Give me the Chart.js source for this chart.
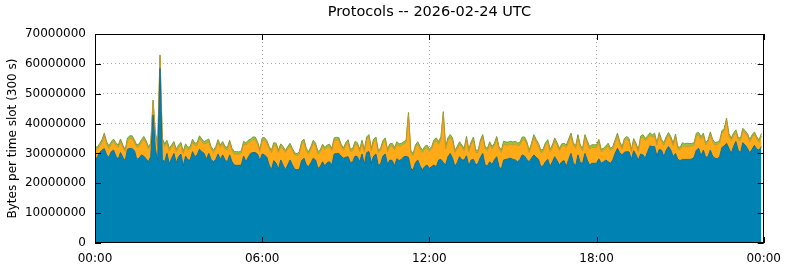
<!DOCTYPE html>
<html>
<head>
<meta charset="utf-8">
<script src="https://cdn.jsdelivr.net/npm/chart.js@4"></script>
<style>
  html, body { margin: 0; padding: 0; background: #fff; }
  canvas { display: block; }
</style>
</head>
<body>
<canvas id="chart" width="790" height="267"></canvas>
<script>
const TITLE = 'Protocols -- 2026-02-24 UTC';
const Y_TITLE = 'Bytes per time slot (300 s)';
const SLOT_MIN = 5; // one value every 300 s
const TIME_TICKS = ['00:00', '06:00', '12:00', '18:00', '00:00'];

// values in millions of bytes per slot, 288 slots (00:00 .. 23:55)
const tcp = [
  27.2, 28.9, 30.3, 31.1, 31.6, 29.5, 28.7, 30.6, 31.1, 29.1, 28.0, 30.3, 28.7, 27.5, 31.4, 31.7, 31.6, 30.9, 28.0, 28.4, 29.5, 29.1, 28.2, 27.2,
  28.9, 42.9, 31.5, 27.6, 58.5, 28.0, 27.2, 30.0, 26.5, 28.4, 30.0, 26.9, 28.9, 29.8, 25.8, 29.1, 27.8, 27.8, 30.6, 28.9, 29.5, 31.4, 30.6, 30.0,
  28.0, 30.0, 28.0, 27.2, 28.0, 29.8, 28.0, 29.5, 27.8, 27.2, 29.5, 27.2, 26.1, 26.0, 26.0, 26.1, 29.1, 27.2, 28.7, 30.0, 30.3, 30.3, 29.8, 27.6,
  29.8, 29.5, 28.7, 26.1, 24.5, 27.6, 26.7, 24.7, 27.8, 26.1, 24.5, 26.1, 27.8, 26.1, 24.7, 24.5, 24.7, 27.6, 28.4, 26.1, 25.6, 26.9, 28.4, 27.8,
  25.0, 25.6, 27.2, 25.8, 26.9, 27.2, 26.1, 29.8, 30.0, 30.0, 29.1, 28.4, 28.7, 28.9, 26.9, 27.2, 29.1, 28.9, 27.2, 29.8, 26.3, 30.3, 30.6, 26.7,
  29.1, 29.8, 26.0, 26.5, 29.1, 29.8, 26.3, 27.8, 27.6, 25.8, 28.2, 27.6, 28.0, 28.9, 29.0, 28.7, 25.0, 24.5, 26.9, 27.8, 25.8, 24.5, 25.6, 26.1,
  25.0, 25.6, 26.1, 25.5, 27.8, 28.0, 27.0, 26.1, 28.9, 30.0, 28.4, 25.6, 26.9, 28.9, 27.8, 27.8, 29.2, 25.8, 27.8, 28.0, 26.1, 26.7, 28.7, 30.0,
  26.1, 25.8, 27.2, 26.3, 27.8, 28.9, 25.6, 24.7, 27.8, 28.0, 28.2, 28.4, 28.0, 27.8, 27.2, 28.0, 29.5, 29.1, 28.0, 27.2, 28.4, 29.5, 28.7, 28.0,
  25.6, 25.8, 27.2, 28.0, 25.6, 27.2, 28.9, 27.6, 26.1, 27.2, 27.6, 25.6, 28.0, 30.0, 26.9, 25.8, 29.5, 26.9, 26.7, 30.0, 27.8, 26.1, 26.7, 26.7,
  26.7, 28.2, 26.7, 27.2, 27.8, 27.2, 26.7, 27.8, 30.0, 31.7, 30.2, 29.5, 30.4, 30.6, 30.5, 28.0, 30.9, 29.5, 27.8, 29.8, 29.5, 28.4, 30.6, 32.5,
  32.3, 32.3, 29.1, 31.3, 31.1, 28.9, 31.1, 32.3, 31.1, 28.9, 30.0, 28.0, 27.6, 28.0, 28.0, 28.0, 28.0, 28.1, 28.7, 31.1, 31.7, 29.2, 31.1, 28.7,
  28.9, 31.1, 29.1, 28.4, 28.2, 28.9, 32.0, 32.5, 33.4, 31.7, 30.0, 32.3, 34.0, 31.1, 30.2, 33.6, 32.8, 31.7, 30.2, 31.4, 32.7, 31.4, 31.1, 32.3
];
const udp = [
  4.3, 2.5, 2.2, 2.6, 4.3, 3.6, 3.0, 2.5, 2.8, 3.7, 4.0, 3.6, 3.3, 3.1, 2.9, 3.3, 3.4, 2.8, 4.0, 4.0, 4.2, 5.7, 5.3, 4.3,
  3.7, 4.2, 4.7, 4.8, 3.7, 6.2, 5.2, 3.5, 4.4, 3.6, 3.1, 3.7, 3.1, 3.0, 4.2, 3.3, 3.4, 3.7, 3.3, 3.7, 3.3, 3.6, 3.3, 3.1,
  5.5, 3.9, 3.5, 3.1, 3.5, 3.9, 4.0, 3.6, 3.7, 4.0, 4.0, 3.7, 3.7, 3.8, 3.7, 4.0, 4.0, 5.6, 4.8, 3.9, 4.3, 4.3, 3.3, 3.0,
  4.5, 4.9, 4.8, 5.4, 5.8, 5.2, 5.9, 5.6, 4.6, 5.4, 5.8, 5.4, 4.8, 4.8, 4.8, 4.7, 5.1, 5.5, 5.5, 4.8, 4.2, 4.6, 5.1, 4.8,
  4.8, 4.7, 5.1, 5.4, 5.1, 5.1, 4.8, 4.5, 4.5, 4.4, 3.2, 2.6, 4.1, 4.8, 3.7, 3.7, 4.0, 3.9, 3.4, 3.7, 4.3, 4.3, 4.8, 4.2,
  4.8, 4.8, 4.3, 4.4, 4.4, 4.5, 4.3, 4.6, 5.0, 5.4, 4.9, 4.8, 4.6, 4.2, 4.7, 14.2, 5.3, 4.7, 5.1, 5.3, 5.7, 5.8, 5.9, 5.9,
  5.6, 5.9, 7.6, 8.8, 5.3, 6.8, 16.2, 5.4, 5.4, 5.4, 5.9, 4.7, 4.6, 4.2, 4.2, 3.1, 5.6, 4.8, 5.3, 6.6, 4.2, 3.6, 5.0, 5.4,
  5.4, 5.1, 5.9, 5.2, 4.8, 5.9, 5.9, 5.6, 5.3, 4.8, 4.6, 4.7, 4.8, 5.3, 5.4, 4.8, 5.1, 5.5, 5.1, 3.1, 4.2, 5.9, 5.2, 4.6,
  4.7, 4.8, 5.6, 5.7, 5.0, 4.8, 5.4, 5.2, 4.8, 5.2, 5.0, 6.4, 5.9, 5.9, 5.9, 5.9, 5.9, 5.1, 4.2, 5.4, 5.7, 5.4, 5.3, 5.3,
  5.3, 5.7, 3.9, 3.7, 3.9, 5.4, 4.2, 3.7, 3.7, 4.2, 2.9, 2.0, 3.8, 4.2, 3.7, 2.6, 3.3, 3.1, 2.8, 5.2, 5.9, 5.9, 4.4, 3.6,
  3.1, 3.6, 3.7, 4.8, 2.8, 3.9, 3.7, 3.8, 3.7, 3.7, 5.7, 3.5, 3.6, 4.6, 4.2, 4.4, 4.3, 4.3, 4.1, 4.8, 4.4, 5.6, 4.8, 4.1,
  4.8, 5.2, 4.8, 4.4, 4.8, 4.6, 4.8, 5.1, 7.6, 4.2, 4.3, 3.6, 3.0, 3.5, 4.1, 4.0, 4.0, 4.2, 3.7, 4.0, 3.7, 3.4, 2.6, 3.6
];
const other = [
  0.8, 0.7, 0.8, 0.9, 0.9, 0.8, 0.8, 0.8, 0.9, 0.8, 0.8, 0.9, 0.8, 0.7, 0.9, 0.9, 0.9, 0.8, 0.8, 0.8, 0.9, 0.9, 0.8, 0.8,
  0.8, 0.8, 0.7, 0.8, 0.8, 0.8, 0.8, 0.9, 0.8, 0.8, 0.9, 0.8, 0.8, 0.9, 0.7, 0.8, 0.8, 0.8, 0.9, 0.8, 0.8, 0.9, 0.9, 0.8,
  0.9, 0.9, 0.8, 0.8, 0.8, 0.9, 0.8, 0.9, 0.8, 0.8, 0.9, 0.8, 0.8, 0.8, 0.8, 0.8, 0.9, 0.8, 0.9, 0.9, 0.9, 0.9, 0.8, 0.8,
  0.9, 0.9, 0.8, 0.8, 0.8, 0.8, 0.8, 0.8, 0.8, 0.8, 0.7, 0.8, 0.8, 0.8, 0.7, 0.7, 0.8, 0.9, 0.9, 0.8, 0.8, 0.8, 0.9, 0.8,
  0.8, 0.8, 0.8, 0.8, 0.8, 0.8, 0.8, 0.9, 0.9, 0.9, 0.8, 0.8, 0.8, 0.9, 0.8, 0.8, 0.9, 0.8, 0.8, 0.9, 0.8, 0.9, 0.9, 0.8,
  0.9, 0.9, 0.8, 0.8, 0.8, 0.9, 0.8, 0.8, 0.8, 0.8, 0.8, 0.8, 0.8, 0.8, 0.8, 0.8, 0.8, 0.7, 0.8, 0.8, 0.8, 0.8, 0.8, 0.8,
  0.8, 0.8, 0.9, 0.9, 0.8, 0.8, 0.8, 0.8, 0.9, 0.9, 0.9, 0.8, 0.8, 0.8, 0.8, 0.8, 0.9, 0.8, 0.8, 0.9, 0.8, 0.8, 0.8, 0.9,
  0.8, 0.8, 0.8, 0.8, 0.8, 0.9, 0.8, 0.8, 1.0, 1.0, 1.0, 1.0, 1.0, 1.0, 0.9, 0.9, 0.9, 0.9, 0.8, 0.8, 0.8, 0.9, 0.8, 0.8,
  0.8, 0.8, 0.8, 0.9, 0.8, 0.8, 0.9, 0.8, 0.8, 0.8, 0.8, 0.8, 0.9, 0.9, 0.8, 0.8, 0.9, 0.8, 0.8, 0.9, 0.8, 0.8, 0.9, 0.9,
  0.9, 0.8, 0.8, 0.8, 0.8, 0.8, 0.8, 0.8, 0.8, 0.9, 0.8, 0.8, 0.8, 0.9, 0.8, 0.7, 0.8, 0.8, 0.7, 0.8, 0.9, 0.8, 0.8, 0.8,
  0.8, 0.9, 0.8, 0.9, 0.8, 0.8, 0.8, 0.9, 0.8, 0.8, 0.8, 0.8, 0.8, 1.0, 1.0, 1.0, 1.0, 0.9, 0.8, 0.9, 0.9, 0.8, 0.9, 0.8,
  0.8, 0.9, 0.8, 0.8, 0.8, 0.8, 0.8, 0.8, 0.8, 0.8, 0.8, 0.9, 0.9, 0.8, 0.8, 0.8, 0.8, 0.8, 0.8, 0.8, 0.8, 0.8, 0.8, 0.8
];

const Y_MAX = 70000000, Y_STEP = 10000000;

function toPoints(arr) {
  return arr.map((v, i) => ({ x: i * SLOT_MIN, y: v * 1e6 }));
}

function mkArea(label, arr, fillColor, edgeColor, fill) {
  return {
    label, data: toPoints(arr), fill,
    backgroundColor: fillColor, borderColor: edgeColor,
    borderWidth: 1, pointRadius: 0, tension: 0
  };
}

// gnuplot-ish frame with inward tick marks, plus the title over the plot centre
const frame = {
  id: 'frame',
  afterDatasetsDraw(chart) {
    const { ctx, chartArea: a, scales: { x, y } } = chart;
    ctx.save();
    ctx.strokeStyle = '#000';
    ctx.lineWidth = 1;
    ctx.beginPath();
    y.ticks.forEach(t => {
      const py = Math.round(y.getPixelForValue(t.value)) + 0.5;
      ctx.moveTo(a.left, py); ctx.lineTo(a.left + 6, py);
      ctx.moveTo(a.right, py); ctx.lineTo(a.right - 6, py);
    });
    x.ticks.forEach(t => {
      const px = Math.round(x.getPixelForValue(t.value)) + 0.5;
      ctx.moveTo(px, a.top); ctx.lineTo(px, a.top + 6);
      ctx.moveTo(px, a.bottom); ctx.lineTo(px, a.bottom - 6);
    });
    ctx.stroke();
    ctx.strokeRect(Math.round(a.left) + 0.5, Math.round(a.top) + 0.5,
      Math.round(a.right - a.left) - 1, Math.round(a.bottom - a.top) - 1);

    ctx.fillStyle = '#000';
    ctx.font = "14.5px 'DejaVu Sans', sans-serif";
    ctx.textAlign = 'center';
    ctx.textBaseline = 'middle';
    ctx.fillText(TITLE, (a.left + a.right) / 2, 12);
    ctx.restore();
  }
};

Chart.defaults.font.family = "'DejaVu Sans', sans-serif";
Chart.defaults.font.size = 12;
Chart.defaults.color = '#000';

const gridColor = ctx => (ctx.tick && (ctx.tick.value === 0 || ctx.tick.value === ctx.scale.max)) ? 'rgba(0,0,0,0)' : '#a8a8a8';

new Chart(document.getElementById('chart'), {
  type: 'line',
  data: {
    datasets: [
      mkArea('TCP', tcp, '#0083b3', '#146d92', 'origin'),
      mkArea('UDP', udp, '#ffab17', '#c9962c', '-1'),
      mkArea('Other', other, '#92c83e', '#7e9a34', '-1')
    ]
  },
  options: {
    responsive: false,
    animation: false,
    layout: { padding: { left: 0, right: 22, top: 34, bottom: 0 } },
    plugins: {
      legend: { display: false },
      tooltip: { enabled: false },
      title: { display: false }
    },
    scales: {
      x: {
        type: 'linear', min: 0, max: 24 * 60,
        afterFit: s => { s.height = 24; },
        ticks: {
          stepSize: 360, maxRotation: 0, autoSkip: false, padding: 9,
          callback: v => TIME_TICKS[v / 360]
        },
        grid: { color: gridColor, drawTicks: false },
        border: { display: false, dash: [1, 3] }
      },
      y: {
        stacked: true, min: 0, max: Y_MAX,
        afterFit: s => { s.width = 95; },
        ticks: { stepSize: Y_STEP, padding: 9, callback: v => String(v) },
        grid: { color: gridColor, drawTicks: false },
        border: { display: false, dash: [1, 3] },
        title: { display: true, text: Y_TITLE, font: { size: 12 }, padding: { top: 6, bottom: 0 } }
      }
    }
  },
  plugins: [frame]
});
</script>
</body>
</html>
